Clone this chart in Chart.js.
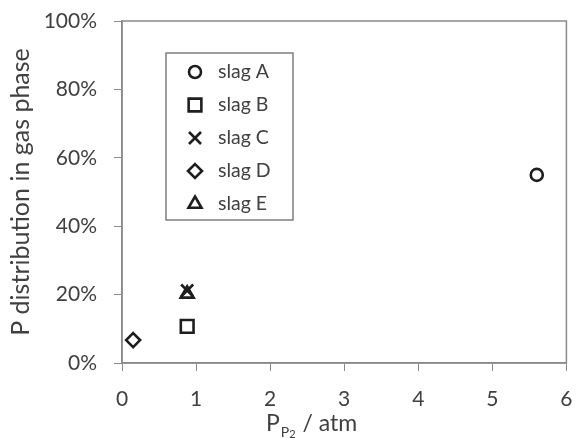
<!DOCTYPE html>
<html>
<head>
<meta charset="utf-8">
<script src="https://cdn.jsdelivr.net/npm/chart.js@4/dist/chart.umd.min.js"></script>
<style>
  html, body { margin: 0; padding: 0; background: #ffffff; }
  canvas { display: block; }
</style>
</head>
<body>
<canvas id="c" width="578" height="438"></canvas>
<script>
// Phosphorus distribution in the gas phase against P2 partial pressure
const slagNames = ['slag A', 'slag B', 'slag C', 'slag D', 'slag E'];
const pressureAtm = [5.6, 0.88, 0.88, 0.15, 0.88];
const pDistribution = [0.55, 0.107, 0.212, 0.067, 0.202];
const markerStyles = ['circle', 'rect', 'crossRot', 'rectRot', 'triangle'];
const markerRadius = [6, 9, 8.5, 7, 7.5];
const xTickValues = [0, 1, 2, 3, 4, 5, 6];
const yTickValues = [0, 0.2, 0.4, 0.6, 0.8, 1.0];

const FONT = 'Lato, "Liberation Sans", sans-serif';
const TEXT = '#404040';
const INK = '#1e1e1e';
const FRAME = '#8a8a8a';

const datasets = slagNames.map((name, i) => ({
  label: name,
  data: [{ x: pressureAtm[i], y: pDistribution[i] }],
  pointStyle: markerStyles[i],
  pointRadius: markerRadius[i],
  pointHoverRadius: markerRadius[i],
  pointBorderWidth: 2.6,
  pointBorderColor: INK,
  pointBackgroundColor: 'rgba(0,0,0,0)',
  showLine: false
}));

// Frame around the plot area (top and right edges included)
const frame = {
  id: 'frame',
  afterDatasetsDraw(chart) {
    const { ctx, chartArea: a } = chart;
    ctx.save();
    ctx.strokeStyle = FRAME;
    ctx.lineWidth = 1.5;
    ctx.strokeRect(a.left, a.top, a.right - a.left, a.bottom - a.top);
    ctx.restore();
  }
};

// Boxed legend inside the plot area
const boxLegend = {
  id: 'boxLegend',
  afterDraw(chart) {
    const { ctx } = chart;
    const x0 = 166, y0 = 53, w = 127, h = 167;
    ctx.save();
    ctx.fillStyle = '#ffffff';
    ctx.fillRect(x0, y0, w, h);
    ctx.strokeStyle = '#6a6a6a';
    ctx.lineWidth = 1.3;
    ctx.strokeRect(x0, y0, w, h);
    chart.data.datasets.forEach((ds, i) => {
      const cy = 72 + i * 33;
      ctx.strokeStyle = INK;
      ctx.fillStyle = 'rgba(0,0,0,0)';
      ctx.lineWidth = 2.6;
      Chart.helpers.drawPoint(ctx, {
        pointStyle: ds.pointStyle,
        radius: ds.pointRadius,
        borderWidth: 2.6,
        rotation: 0
      }, 195, cy);
      ctx.fillStyle = TEXT;
      ctx.font = '19.5px ' + FONT;
      ctx.textAlign = 'left';
      ctx.textBaseline = 'middle';
      ctx.fillText(ds.label, 218, cy);
    });
    ctx.restore();
  }
};

// X-axis title with subscript: P_{P2} / atm
const xTitle = {
  id: 'xTitle',
  afterDraw(chart) {
    const { ctx } = chart;
    ctx.save();
    ctx.fillStyle = TEXT;
    ctx.textBaseline = 'alphabetic';
    ctx.textAlign = 'left';
    let x = 266;
    const base = 431;
    ctx.font = '23px ' + FONT;
    ctx.fillText('P', x, base);
    x += ctx.measureText('P').width + 1;
    ctx.font = '14px ' + FONT;
    ctx.fillText('P', x, base + 6);
    x += ctx.measureText('P').width;
    ctx.font = '11px ' + FONT;
    ctx.fillText('2', x, base + 7);
    x += ctx.measureText('2').width + 1;
    ctx.font = '23px ' + FONT;
    ctx.fillText(' / atm', x, base);
    ctx.restore();
  }
};

new Chart(document.getElementById('c'), {
  type: 'scatter',
  data: { datasets },
  plugins: [frame, boxLegend, xTitle],
  options: {
    responsive: false,
    animation: false,
    devicePixelRatio: 1,
    layout: { padding: { top: 21, right: 7, left: 0, bottom: 0 } },
    plugins: {
      legend: { display: false },
      tooltip: { enabled: false }
    },
    scales: {
      x: {
        type: 'linear',
        min: 0,
        max: 6,
        afterBuildTicks(scale) { scale.ticks = xTickValues.map(v => ({ value: v })); },
        afterFit(scale) {
          scale.height = 75;
          scale.paddingLeft = 0;
          scale.paddingRight = 0;
        },
        grid: { drawOnChartArea: false, drawTicks: true, tickLength: 8, color: FRAME, lineWidth: 1 },
        border: { display: true, color: FRAME, width: 1.5 },
        ticks: {
          padding: 16,
          color: TEXT,
          font: { family: FONT, size: 21 },
          maxRotation: 0,
          callback: v => String(v)
        }
      },
      y: {
        type: 'linear',
        min: 0,
        max: 1,
        afterBuildTicks(scale) { scale.ticks = yTickValues.map(v => ({ value: v })); },
        afterFit(scale) {
          scale.width = 122;
          scale.paddingTop = 0;
          scale.paddingBottom = 0;
        },
        grid: { drawOnChartArea: false, drawTicks: true, tickLength: 8, color: FRAME, lineWidth: 1 },
        border: { display: true, color: FRAME, width: 1.5 },
        ticks: {
          padding: 17,
          color: TEXT,
          font: { family: FONT, size: 21 },
          callback: v => Math.round(v * 100) + '%'
        },
        title: {
          display: true,
          text: 'P distribution in gas phase',
          color: TEXT,
          font: { family: FONT, size: 25 },
          padding: { top: 6, bottom: 0 }
        }
      }
    }
  }
});
</script>
</body>
</html>
